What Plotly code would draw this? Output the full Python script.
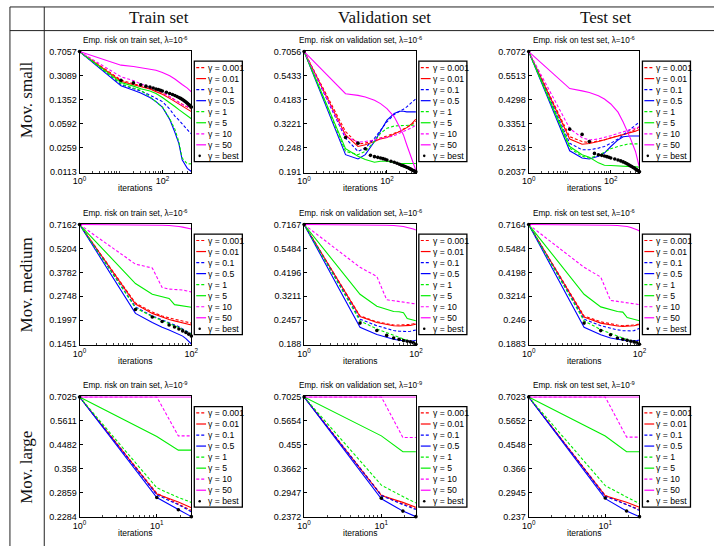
import math
import plotly.graph_objects as go

W, H = 721, 550

# ---------------- data ----------------
GAMMAS = ["0.001", "0.01", "0.1", "0.5", "1", "5", "10", "50", "best"]
COLUMNS = ["Train set", "Validation set", "Test set"]
ROWS = ["Mov. small", "Mov. medium", "Mov. large"]
SET_NAMES = ["train", "validation", "test"]
LAMBDA_EXP = ["-6", "-6", "-9"]

ITER_SMALL = [1, 10, 20, 30, 50, 70, 100, 150, 200, 250, 300, 400, 500]
ITER_SMALL_BEST = [1, 10, 20, 30, 40, 50, 60, 70, 80, 90, 100, 125, 150, 175, 200,
                   225, 250, 275, 300, 325, 350, 375, 400, 425, 450, 475, 500]
ITER_MEDIUM = [1, 10, 20, 30, 40, 50, 60, 70, 80, 90, 100]
ITER_LARGE = [1, 10, 19, 28]

XMAX = [500, 100, 28]
XTICKS = [[1, 100], [1, 100], [1, 10]]

YTICKS_TRAIN_SMALL = [0.7057, 0.3089, 0.1352, 0.0592, 0.0259, 0.0113]
YTICKS_VAL_SMALL = [0.7056, 0.5433, 0.4183, 0.3221, 0.248, 0.191]
YTICKS_TEST_SMALL = [0.7072, 0.5513, 0.4298, 0.3351, 0.2613, 0.2037]
YTICKS_TRAIN_MEDIUM = [0.7162, 0.5204, 0.3782, 0.2748, 0.1997, 0.1451]
YTICKS_VAL_MEDIUM = [0.7167, 0.5484, 0.4196, 0.3211, 0.2457, 0.188]
YTICKS_TEST_MEDIUM = [0.7164, 0.5484, 0.4198, 0.3214, 0.246, 0.1883]
YTICKS_TRAIN_LARGE = [0.7025, 0.5611, 0.4482, 0.358, 0.2859, 0.2284]
YTICKS_VAL_LARGE = [0.7025, 0.5654, 0.455, 0.3662, 0.2947, 0.2372]
YTICKS_TEST_LARGE = [0.7023, 0.5652, 0.4548, 0.366, 0.2945, 0.237]

TRAIN_SMALL = {
    "0.001": [0.7057, 0.2656, 0.2324, 0.2198, 0.2011, 0.1861, 0.1703, 0.1490, 0.1334, 0.1234, 0.1155, 0.1044, 0.0977],
    "0.01": [0.7057, 0.2540, 0.2248, 0.2126, 0.1946, 0.1780, 0.1629, 0.1410, 0.1261, 0.1167, 0.1092, 0.0977, 0.0894],
    "0.1": [0.7057, 0.2273, 0.1967, 0.1820, 0.1575, 0.1410, 0.1261, 0.0977, 0.0765, 0.0670, 0.0580, 0.0480, 0.0415],
    "0.5": [0.7057, 0.2174, 0.1861, 0.1703, 0.1457, 0.1261, 0.1044, 0.0685, 0.0439, 0.0298, 0.0171, 0.0127, 0.0114],
    "1": [0.7057, 0.2324, 0.2011, 0.1861, 0.1490, 0.1261, 0.1044, 0.0700, 0.0490, 0.0315, 0.0181, 0.0148, 0.0149],
    "5": [0.7057, 0.2429, 0.2150, 0.1967, 0.1820, 0.1665, 0.1457, 0.1234, 0.1068, 0.0956, 0.0875, 0.0783, 0.0700],
    "10": [0.7057, 0.2968, 0.2597, 0.2324, 0.2080, 0.1903, 0.1741, 0.1490, 0.1334, 0.1220, 0.1142, 0.1068, 0.1010],
    "50": [0.7057, 0.4426, 0.4233, 0.4049, 0.3917, 0.3705, 0.3428, 0.3068, 0.2745, 0.2512, 0.2273, 0.2011, 0.1760],
    "best": [0.7057, 0.2626, 0.2402, 0.2248, 0.2150, 0.2080, 0.2011, 0.1946, 0.1903, 0.1861, 0.1820, 0.1741, 0.1665,
             0.1611, 0.1558, 0.1507, 0.1457, 0.1410, 0.1364, 0.1319, 0.1276, 0.1234, 0.1193, 0.1155, 0.1117, 0.1080, 0.1044],
}
VAL_SMALL = {
    "0.001": [0.7056, 0.2955, 0.2579, 0.2607, 0.2702, 0.2770, 0.2820, 0.2902, 0.2955, 0.3041, 0.3085, 0.3197, 0.3313],
    "0.01": [0.7056, 0.2851, 0.2515, 0.2561, 0.2654, 0.2731, 0.2770, 0.2871, 0.2955, 0.3019, 0.3085, 0.3220, 0.3385],
    "0.1": [0.7056, 0.2750, 0.2383, 0.2470, 0.2750, 0.3008, 0.3290, 0.3560, 0.3664, 0.3770, 0.3865, 0.4050, 0.4228],
    "0.5": [0.7056, 0.2300, 0.2195, 0.2300, 0.2654, 0.2955, 0.3349, 0.3599, 0.3690, 0.3690, 0.3664, 0.3664, 0.3664],
    "1": [0.7056, 0.2383, 0.2300, 0.2383, 0.2654, 0.2902, 0.3062, 0.3141, 0.3152, 0.3163, 0.3174, 0.3174, 0.3174],
    "5": [0.7056, 0.2453, 0.2259, 0.2180, 0.2118, 0.2141, 0.2141, 0.2103, 0.2088, 0.2088, 0.2088, 0.2088, 0.2088],
    "10": [0.7056, 0.2800, 0.2635, 0.2654, 0.2702, 0.2750, 0.2770, 0.2831, 0.2902, 0.2955, 0.3008, 0.3085, 0.3174],
    "50": [0.7056, 0.4461, 0.4382, 0.4304, 0.4152, 0.4006, 0.3797, 0.3472, 0.3118, 0.2851, 0.2561, 0.2180, 0.1936],
    "best": [0.7056, 0.2770, 0.2607, 0.2453, 0.2283, 0.2250, 0.2234, 0.2218, 0.2202, 0.2187, 0.2171, 0.2141, 0.2118,
             0.2095, 0.2073, 0.2050, 0.2036, 0.2021, 0.2007, 0.1993, 0.1978, 0.1964, 0.1950, 0.1936, 0.1929, 0.1915, 0.1909],
}
TEST_SMALL = {
    "0.001": [0.7072, 0.2929, 0.2784, 0.2755, 0.2803, 0.2831, 0.2899, 0.2948, 0.2999, 0.3030, 0.3081, 0.3155, 0.3243],
    "0.01": [0.7072, 0.2860, 0.2709, 0.2727, 0.2784, 0.2831, 0.2899, 0.2958, 0.2999, 0.3030, 0.3060, 0.3102, 0.3155],
    "0.1": [0.7072, 0.2736, 0.2557, 0.2557, 0.2601, 0.2645, 0.2736, 0.2860, 0.2979, 0.3081, 0.3166, 0.3298, 0.3411],
    "0.5": [0.7072, 0.2531, 0.2349, 0.2325, 0.2390, 0.2472, 0.2645, 0.2831, 0.2929, 0.2948, 0.2948, 0.2948, 0.2948],
    "1": [0.7072, 0.2601, 0.2390, 0.2349, 0.2414, 0.2497, 0.2583, 0.2645, 0.2690, 0.2709, 0.2718, 0.2718, 0.2718],
    "5": [0.7072, 0.2645, 0.2430, 0.2365, 0.2233, 0.2180, 0.2173, 0.2165, 0.2158, 0.2150, 0.2143, 0.2136, 0.2136],
    "10": [0.7072, 0.3187, 0.2899, 0.2831, 0.2860, 0.2899, 0.2958, 0.3030, 0.3081, 0.3113, 0.3134, 0.3187, 0.3243],
    "50": [0.7072, 0.4821, 0.4708, 0.4629, 0.4475, 0.4325, 0.4110, 0.3777, 0.3411, 0.3134, 0.2879, 0.2514, 0.2122],
    "best": [0.7072, 0.3166, 0.2999, 0.2784, 0.2463, 0.2430, 0.2414, 0.2397, 0.2381, 0.2365, 0.2349, 0.2325, 0.2302,
             0.2279, 0.2255, 0.2233, 0.2210, 0.2188, 0.2165, 0.2150, 0.2129, 0.2115, 0.2093, 0.2079, 0.2065, 0.2051, 0.2037],
}
TRAIN_MEDIUM = {
    "0.001": [0.7162, 0.2514, 0.2227, 0.2114, 0.2060, 0.2025, 0.1998, 0.1973, 0.1955, 0.1939, 0.1922],
    "0.01": [0.7162, 0.2481, 0.2189, 0.2078, 0.2016, 0.1981, 0.1955, 0.1930, 0.1914, 0.1897, 0.1873],
    "0.1": [0.7162, 0.2386, 0.2114, 0.2008, 0.1939, 0.1881, 0.1833, 0.1778, 0.1741, 0.1703, 0.1667],
    "0.5": [0.7162, 0.2189, 0.1939, 0.1817, 0.1755, 0.1703, 0.1659, 0.1616, 0.1562, 0.1508, 0.1455],
    "1": [0.7162, 0.2356, 0.2096, 0.1990, 0.1922, 0.1857, 0.1809, 0.1763, 0.1725, 0.1695, 0.1659],
    "5": [0.7162, 0.3259, 0.2825, 0.2741, 0.2670, 0.2459, 0.2439, 0.2428, 0.2407, 0.2397, 0.2376],
    "10": [0.7162, 0.4224, 0.4011, 0.3094, 0.3027, 0.3014, 0.3014, 0.2988, 0.2963, 0.2937, 0.2912],
    "50": [0.7162, 0.7162, 0.7131, 0.7100, 0.7070, 0.7039, 0.6978, 0.6918, 0.6859, 0.6799, 0.6741],
    "best": [0.7162, 0.2305, 0.2087, 0.1964, 0.1873, 0.1825, 0.1778, 0.1733, 0.1695, 0.1659, 0.1616],
}
VAL_MEDIUM = {
    "0.001": [0.7167, 0.2578, 0.2415, 0.2354, 0.2329, 0.2329, 0.2329, 0.2337, 0.2346, 0.2363, 0.2380],
    "0.01": [0.7167, 0.2559, 0.2397, 0.2337, 0.2312, 0.2304, 0.2304, 0.2312, 0.2321, 0.2337, 0.2354],
    "0.1": [0.7167, 0.2486, 0.2312, 0.2230, 0.2190, 0.2174, 0.2166, 0.2166, 0.2174, 0.2190, 0.2205],
    "0.5": [0.7167, 0.2271, 0.2096, 0.2022, 0.1985, 0.1964, 0.1950, 0.1943, 0.1943, 0.1950, 0.1964],
    "1": [0.7167, 0.2441, 0.2230, 0.2135, 0.2074, 0.2022, 0.1985, 0.1957, 0.1936, 0.1915, 0.1894],
    "5": [0.7167, 0.3287, 0.2874, 0.2771, 0.2712, 0.2702, 0.2673, 0.2504, 0.2477, 0.2459, 0.2441],
    "10": [0.7167, 0.4441, 0.4012, 0.3090, 0.3057, 0.3035, 0.3013, 0.2991, 0.2980, 0.2959, 0.2948],
    "50": [0.7167, 0.7167, 0.7141, 0.7115, 0.7089, 0.7064, 0.7013, 0.6937, 0.6887, 0.6812, 0.6739],
    "best": [0.7167, 0.2380, 0.2190, 0.2074, 0.2015, 0.1985, 0.1957, 0.1943, 0.1929, 0.1908, 0.1880],
}
TEST_MEDIUM = {
    "0.001": [0.7164, 0.2580, 0.2418, 0.2357, 0.2332, 0.2315, 0.2315, 0.2323, 0.2332, 0.2348, 0.2366],
    "0.01": [0.7164, 0.2553, 0.2383, 0.2332, 0.2306, 0.2298, 0.2298, 0.2306, 0.2315, 0.2332, 0.2348],
    "0.1": [0.7164, 0.2489, 0.2315, 0.2249, 0.2209, 0.2192, 0.2184, 0.2184, 0.2192, 0.2217, 0.2249],
    "0.5": [0.7164, 0.2273, 0.2092, 0.2017, 0.1989, 0.1966, 0.1960, 0.1953, 0.1953, 0.1960, 0.1974],
    "1": [0.7164, 0.2444, 0.2217, 0.2114, 0.2062, 0.2017, 0.1989, 0.1960, 0.1938, 0.1918, 0.1897],
    "5": [0.7164, 0.3289, 0.2856, 0.2774, 0.2714, 0.2695, 0.2534, 0.2507, 0.2489, 0.2471, 0.2444],
    "10": [0.7164, 0.4442, 0.3985, 0.3071, 0.3037, 0.3015, 0.2993, 0.2972, 0.2961, 0.2950, 0.2929],
    "50": [0.7164, 0.7164, 0.7138, 0.7112, 0.7087, 0.7061, 0.7010, 0.6934, 0.6859, 0.6761, 0.6664],
    "best": [0.7164, 0.2383, 0.2192, 0.2092, 0.2017, 0.1989, 0.1966, 0.1946, 0.1932, 0.1911, 0.1883],
}
TRAIN_LARGE = {
    "0.001": [0.7025, 0.2844, 0.2572, 0.2420],
    "0.01": [0.7025, 0.2826, 0.2619, 0.2480],
    "0.1": [0.7025, 0.2801, 0.2556, 0.2391],
    "0.5": [0.7025, 0.2734, 0.2442, 0.2284],
    "1": [0.7025, 0.2995, 0.2734, 0.2611],
    "5": [0.7025, 0.4845, 0.4264, 0.4264],
    "10": [0.7025, 0.7025, 0.4875, 0.4875],
    "50": [0.7025, 0.7025, 0.7025, 0.7025],
    "best": [0.7025, 0.2734, 0.2435, 0.2284],
}
VAL_LARGE = {
    "0.001": [0.7025, 0.2889, 0.2661, 0.2554],
    "0.01": [0.7025, 0.2872, 0.2700, 0.2584],
    "0.1": [0.7025, 0.2872, 0.2646, 0.2531],
    "0.5": [0.7025, 0.2789, 0.2494, 0.2372],
    "1": [0.7025, 0.3156, 0.2847, 0.2684],
    "5": [0.7025, 0.4936, 0.4273, 0.4273],
    "10": [0.7025, 0.7025, 0.4863, 0.4863],
    "50": [0.7025, 0.7025, 0.7025, 0.7025],
    "best": [0.7025, 0.2806, 0.2494, 0.2372],
}
TEST_LARGE = {
    "0.001": [0.7023, 0.2874, 0.2645, 0.2530],
    "0.01": [0.7023, 0.2865, 0.2700, 0.2583],
    "0.1": [0.7023, 0.2848, 0.2645, 0.2508],
    "0.5": [0.7023, 0.2790, 0.2493, 0.2370],
    "1": [0.7023, 0.3141, 0.2832, 0.2669],
    "5": [0.7023, 0.4925, 0.4272, 0.4272],
    "10": [0.7023, 0.7023, 0.4880, 0.4880],
    "50": [0.7023, 0.7023, 0.7023, 0.7023],
    "best": [0.7023, 0.2806, 0.2493, 0.2370],
}

PANEL_DATA = [
    [TRAIN_SMALL, VAL_SMALL, TEST_SMALL],
    [TRAIN_MEDIUM, VAL_MEDIUM, TEST_MEDIUM],
    [TRAIN_LARGE, VAL_LARGE, TEST_LARGE],
]
PANEL_YTICKS = [
    [YTICKS_TRAIN_SMALL, YTICKS_VAL_SMALL, YTICKS_TEST_SMALL],
    [YTICKS_TRAIN_MEDIUM, YTICKS_VAL_MEDIUM, YTICKS_TEST_MEDIUM],
    [YTICKS_TRAIN_LARGE, YTICKS_VAL_LARGE, YTICKS_TEST_LARGE],
]
ROW_ITERS = [(ITER_SMALL, ITER_SMALL_BEST), (ITER_MEDIUM, ITER_MEDIUM), (ITER_LARGE, ITER_LARGE)]

# ---------------- styles ----------------
STYLE = {
    "0.001": ("#ff0000", "3px,2px"), "0.01": ("#ff0000", "solid"),
    "0.1": ("#0000ff", "3px,2px"), "0.5": ("#0000ff", "solid"),
    "1": ("#00ee00", "3px,2px"), "5": ("#00ee00", "solid"),
    "10": ("#ff00ff", "3px,2px"), "50": ("#ff00ff", "solid"),
}
SANS = "Liberation Sans, Arial, sans-serif"
SERIF = "Liberation Serif, Times New Roman, serif"

COL_X = [(74, 188), (303, 417), (532, 645)]
ROW_Y = [(47.5, 171), (223, 346), (398, 521)]


def px(x):
    return x / W


def py(y):
    return 1 - y / H


fig = go.Figure()
layout = dict(width=W, height=H, margin=dict(l=0, r=0, t=0, b=0),
              paper_bgcolor="white", plot_bgcolor="white", showlegend=False)
shapes, annotations = [], []

for r in range(3):
    for c in range(3):
        k = r * 3 + c + 1
        xs = "x" if k == 1 else f"x{k}"
        ys = "y" if k == 1 else f"y{k}"
        x0, x1 = COL_X[c]
        y0, y1 = ROW_Y[r]
        data = PANEL_DATA[r][c]
        yt = PANEL_YTICKS[r][c]
        iters, best_iters = ROW_ITERS[r]

        for g in GAMMAS[:-1]:
            col, dash = STYLE[g]
            fig.add_trace(go.Scatter(x=iters, y=data[g], mode="lines",
                                     line=dict(color=col, width=1.1, dash=dash),
                                     xaxis=xs, yaxis=ys, hoverinfo="skip"))
        fig.add_trace(go.Scatter(x=best_iters, y=data["best"], mode="markers",
                                 marker=dict(color="black", size=3.6),
                                 cliponaxis=False, xaxis=xs, yaxis=ys, hoverinfo="skip"))

        lo, hi = math.log10(min(yt)), math.log10(max(yt))
        pad = (hi - lo) / (y1 - y0) * 0.8
        xmax = XMAX[r]
        minor_vals = [m * d for d in (1, 10, 100) for m in range(2, 10) if m * d < xmax]
        layout["xaxis" + ("" if k == 1 else str(k))] = dict(
            domain=[px(x0), px(x1)], anchor=ys, type="log",
            range=[0, math.log10(xmax)],
            tickmode="array", tickvals=XTICKS[r],
            ticktext=[f"10<sup>{int(round(math.log10(v)))}</sup>" for v in XTICKS[r]],
            ticks="inside", ticklen=3, tickcolor="black", tickwidth=1,
            showline=True, linecolor="black", linewidth=1, mirror=True,
            showgrid=False, zeroline=False,
            tickfont=dict(family=SANS, size=9, color="black"),
            minor=dict(tickmode="array", tickvals=minor_vals, ticks="inside",
                       ticklen=2, tickcolor="#444", showgrid=False),
        )
        layout["yaxis" + ("" if k == 1 else str(k))] = dict(
            domain=[py(y1), py(y0)], anchor=xs, type="log",
            range=[lo - pad, hi + pad],
            tickmode="array", tickvals=yt, ticktext=[str(v) for v in yt],
            ticks="inside", ticklen=3, tickcolor="black", tickwidth=1,
            showline=True, linecolor="black", linewidth=1, mirror=True,
            showgrid=False, zeroline=False,
            tickfont=dict(family=SANS, size=9, color="black"),
        )

        cx = (x0 + x1) / 2
        annotations.append(dict(
            x=px(cx), y=py(y0 - 11), xref="paper", yref="paper",
            text=f"Emp. risk on {SET_NAMES[c]} set, λ=10<sup>{LAMBDA_EXP[r]}</sup>",
            showarrow=False, xanchor="center", yanchor="middle",
            font=dict(family=SANS, size=8.2, color="black")))
        annotations.append(dict(
            x=px(cx), y=py(y1 + 16), xref="paper", yref="paper", text="iterations",
            showarrow=False, xanchor="center", yanchor="middle",
            font=dict(family=SANS, size=8.5, color="black")))

        # legend box
        lx, ly = x1 + 3, y0 + 10.5
        shapes.append(dict(type="rect", xref="paper", yref="paper",
                           x0=px(lx), x1=px(lx + 49), y0=py(ly), y1=py(ly + 102),
                           line=dict(color="black", width=1.3), fillcolor="white", layer="above"))
        for i, g in enumerate(GAMMAS):
            ey = ly + 6.5 + i * 11.2
            if g == "best":
                shapes.append(dict(type="circle", xref="paper", yref="paper",
                                   x0=px(lx + 4.2), x1=px(lx + 6.8), y0=py(ey - 1.3), y1=py(ey + 1.3),
                                   line=dict(color="black", width=0), fillcolor="black", layer="above"))
            else:
                col, dash = STYLE[g]
                shapes.append(dict(type="line", xref="paper", yref="paper",
                                   x0=px(lx + 2), x1=px(lx + 12), y0=py(ey), y1=py(ey),
                                   line=dict(color=col, width=1.2, dash=dash), layer="above"))
            annotations.append(dict(
                x=px(lx + 12), y=py(ey), xref="paper", yref="paper",
                text=f"γ = {g}", showarrow=False, xanchor="left", yanchor="middle",
                font=dict(family=SANS, size=8.7, color="black")))

# table frame
for (a, b, c_, d) in [(3, 3, 721, 3), (3, 27, 721, 27), (3, 3, 3, 550), (38, 3, 38, 550)]:
    shapes.append(dict(type="line", xref="paper", yref="paper",
                       x0=px(a), y0=py(b), x1=px(c_), y1=py(d),
                       line=dict(color="#222", width=1)))

HEADER_X = [155, 385, 610]
for name, hx in zip(COLUMNS, HEADER_X):
    annotations.append(dict(x=px(hx), y=py(14), xref="paper", yref="paper", text=name,
                            showarrow=False, xanchor="center", yanchor="middle",
                            font=dict(family=SERIF, size=17, color="#111")))
ROW_LABEL_Y = [97, 285, 470]
for name, ry in zip(ROWS, ROW_LABEL_Y):
    annotations.append(dict(x=px(20), y=py(ry), xref="paper", yref="paper", text=name,
                            showarrow=False, xanchor="center", yanchor="middle", textangle=-90,
                            font=dict(family=SERIF, size=17, color="#111")))

layout["shapes"] = shapes
layout["annotations"] = annotations
fig.update_layout(**layout)
fig.write_html("out.html", config={"displayModeBar": False, "staticPlot": True},
               post_script="document.body.style.margin='0px';")
